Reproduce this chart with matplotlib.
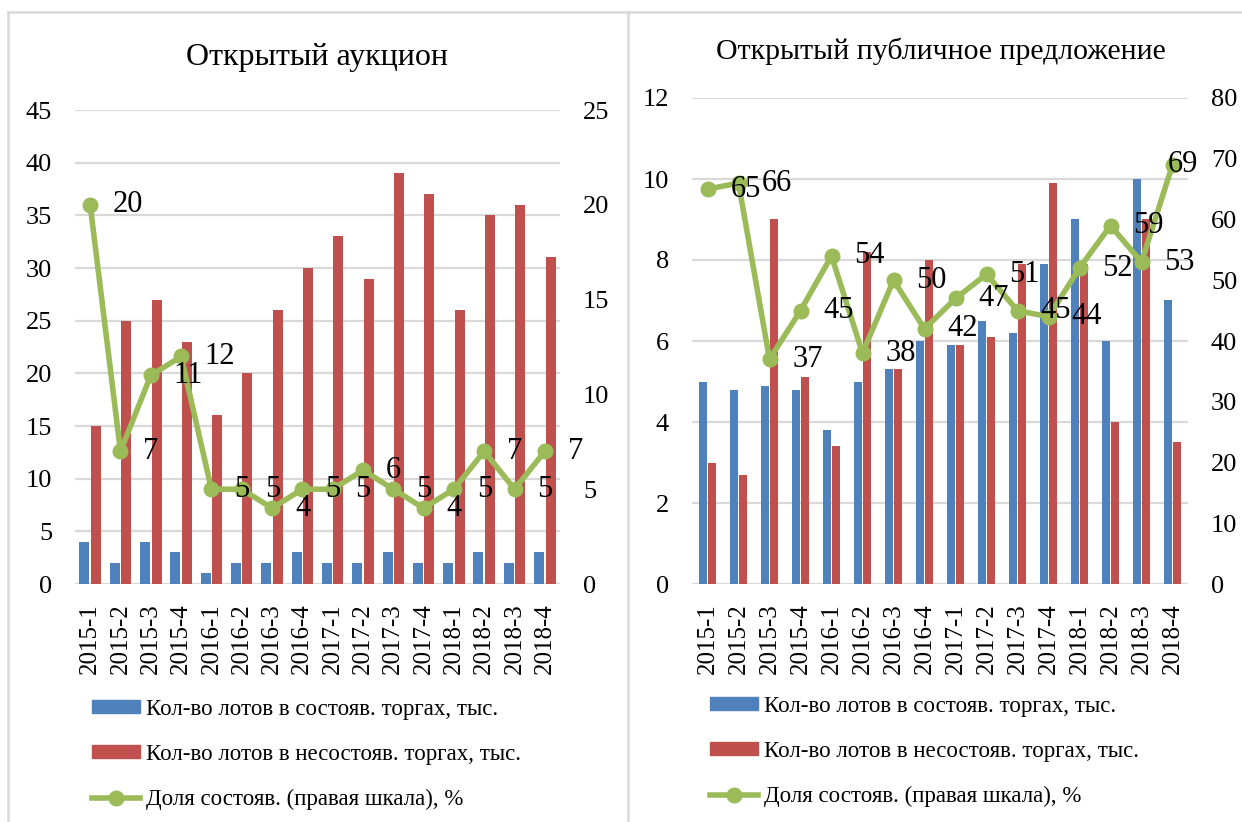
import matplotlib
matplotlib.use("Agg")
import matplotlib.pyplot as plt
import numpy as np
from matplotlib.lines import Line2D
from matplotlib.patches import Patch

plt.rcParams['font.family'] = ['Liberation Serif', 'DejaVu Serif']

categories = ["2015-1", "2015-2", "2015-3", "2015-4", "2016-1", "2016-2", "2016-3", "2016-4",
              "2017-1", "2017-2", "2017-3", "2017-4", "2018-1", "2018-2", "2018-3", "2018-4"]

# Left chart: Открытый аукцион
auc_success = [4, 2, 4, 3, 1, 2, 2, 3, 2, 2, 3, 2, 2, 3, 2, 3]
auc_fail = [15, 25, 27, 23, 16, 20, 26, 30, 33, 29, 39, 37, 26, 35, 36, 31]
auc_share = [20, 7, 11, 12, 5, 5, 4, 5, 5, 6, 5, 4, 5, 7, 5, 7]

# Right chart: Открытый публичное предложение
pub_success = [5, 4.8, 4.9, 4.8, 3.8, 5, 5.3, 6, 5.9, 6.5, 6.2, 7.9, 9, 6, 10, 7]
pub_fail = [3, 2.7, 9, 5.1, 3.4, 8.2, 5.3, 8, 5.9, 6.1, 7.9, 9.9, 7.9, 4, 9, 3.5]
pub_share = [65, 66, 37, 45, 54, 38, 50, 42, 47, 51, 45, 44, 52, 59, 53, 69]

legend_labels = ["Кол-во лотов в состояв. торгах, тыс.",
                 "Кол-во лотов в несостояв. торгах, тыс.",
                 "Доля состояв. (правая шкала), %"]

BLUE = "#4f81bd"
RED = "#c0504d"
GREEN = "#9bbb59"
GRID = "#d9d9d9"

W, H = 1242, 822
fig = plt.figure(figsize=(W / 100, H / 100), dpi=100)


def px_rect(x0, y0, x1, y1):
    return [x0 / W, 1 - y1 / H, (x1 - x0) / W, (y1 - y0) / H]


def draw_chart(rect, succ, fail, share, ylim, yticks, y2lim, y2ticks, width, off,
               title, title_xy, title_size, last_label_off):
    ax = fig.add_axes(rect)
    x = np.arange(len(categories))
    ax.bar(x - off, succ, width, color=BLUE, zorder=2)
    ax.bar(x + off, fail, width, color=RED, zorder=2)
    ax.set_xlim(-0.5, len(categories) - 0.5)
    ax.set_ylim(*ylim)
    ax.set_yticks(yticks)
    ax.set_xticks(x)
    ax.set_xticklabels(categories, rotation=90, fontsize=18)
    ax.tick_params(axis='x', length=0, pad=14)
    ax.tick_params(axis='y', length=0, pad=16.5, labelsize=19)
    for s in ax.spines.values():
        s.set_visible(False)
    ax.grid(axis='y', color=GRID, linewidth=1.6, zorder=0)
    ax.set_axisbelow(True)

    ax2 = ax.twinx()
    ax2.plot(x, share, color=GREEN, linewidth=4, marker='o', markersize=10.5, zorder=3)
    ax2.set_ylim(*y2lim)
    ax2.set_yticks(y2ticks)
    ax2.tick_params(axis='y', length=0, pad=16.5, labelsize=19)
    for s in ax2.spines.values():
        s.set_visible(False)
    n = len(share)
    for i, v in enumerate(share):
        dx = 16.5 if i < n - 1 else last_label_off
        ax2.annotate(str(v), (x[i], v), xytext=(dx, 0), textcoords='offset points',
                     ha='left', va='center', fontsize=22, zorder=5)
    fig.text(title_xy[0] / W, 1 - title_xy[1] / H, title, ha='center', va='center',
             fontsize=title_size)
    return ax


draw_chart(px_rect(75, 110, 560, 584), auc_success, auc_fail, auc_share,
           (0, 45), range(0, 46, 5), (0, 25), range(0, 26, 5), 0.33, 0.19,
           "Открытый аукцион", (317, 57), 23, 16.5)
draw_chart(px_rect(692, 98, 1188, 584), pub_success, pub_fail, pub_share,
           (0, 12), range(0, 13, 2), (0, 80), range(0, 81, 10), 0.235, 0.143,
           "Открытый публичное предложение", (941, 51), 21.5, -3.6)

handles = [Patch(color=BLUE), Patch(color=RED),
           Line2D([0], [0], color=GREEN, linewidth=4, marker='o', markersize=10.5)]
for lx, ty in [(92, 699), (710, 696)]:
    fig.legend(handles, legend_labels, loc='upper left',
               bbox_to_anchor=(lx / W, 1 - ty / H), frameon=False, fontsize=16.5,
               handlelength=2.1, handleheight=0.5, handletextpad=0.25,
               labelspacing=1.05, borderpad=0, borderaxespad=0)

# Chart borders
for xs, ys in [((8, W), (12, 12)), ((8, 8), (12, H)), ((628, 628), (12, H))]:
    fig.add_artist(Line2D([xs[0] / W, xs[1] / W], [1 - ys[0] / H, 1 - ys[1] / H],
                          color=GRID, linewidth=1.8, transform=fig.transFigure))

fig.savefig("out.png", dpi=100)
